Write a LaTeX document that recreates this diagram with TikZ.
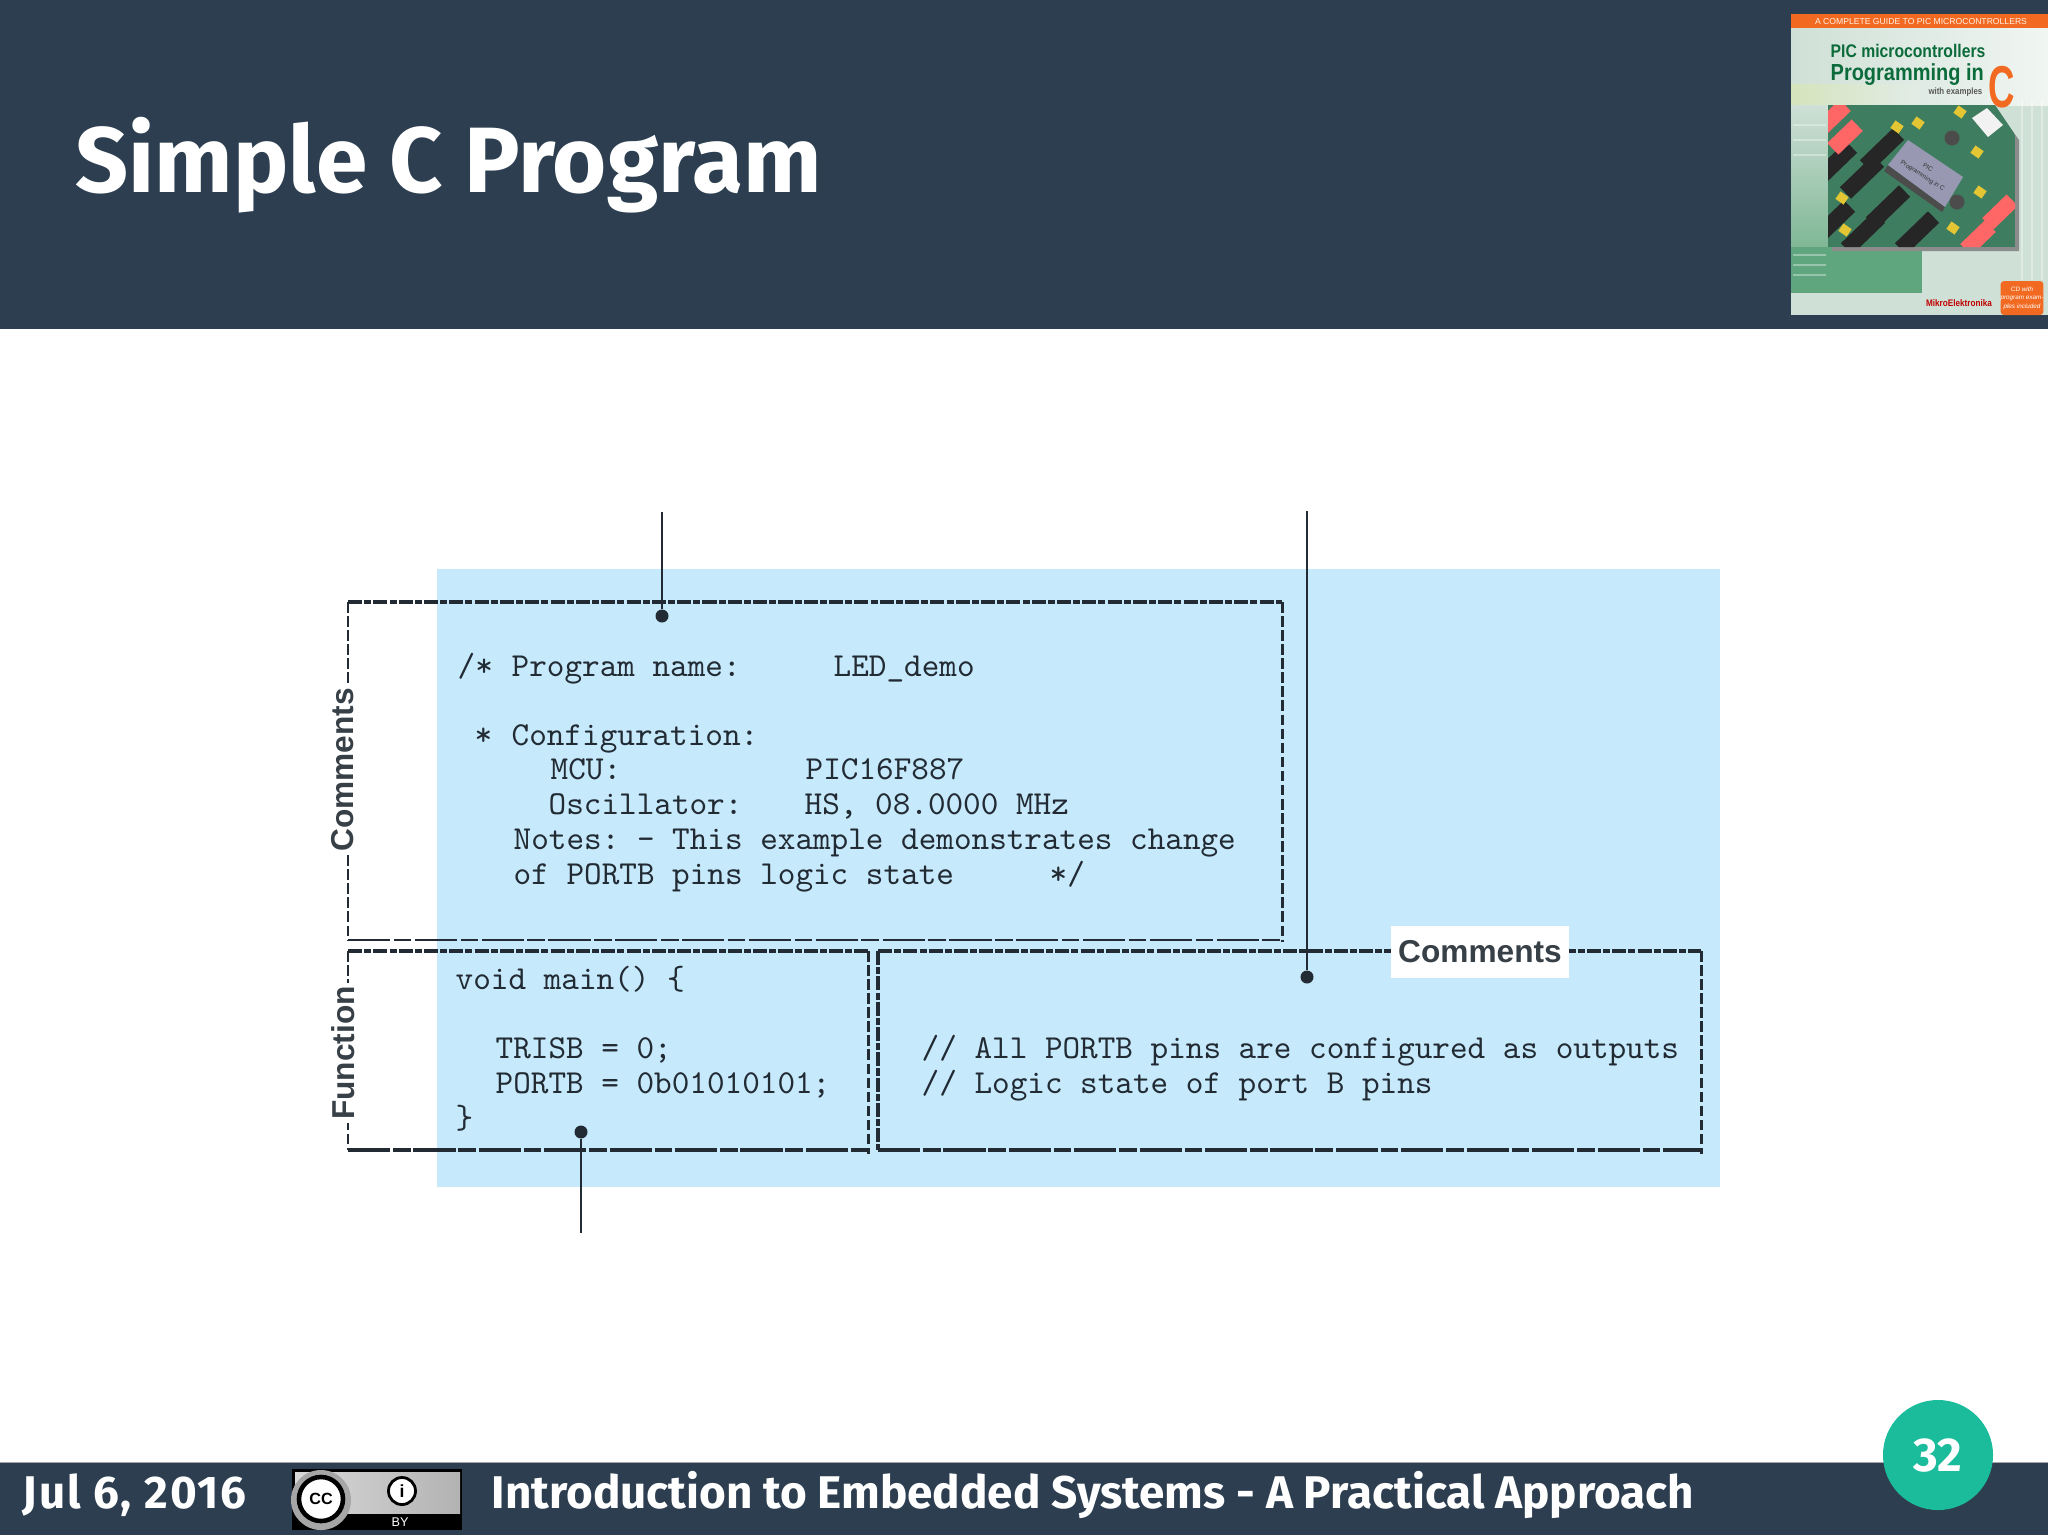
\documentclass[tikz,border=0pt]{standalone}
\usepackage{fontspec}
\setmainfont{Fira Sans}
\setsansfont{Liberation Sans}
\newfontfamily\coverfont[FakeStretch=0.86]{Liberation Sans}
\newfontfamily\coverbig[FakeStretch=0.62]{Liberation Sans}
\definecolor{slatebg}{HTML}{2C3E50}
\definecolor{tealbg}{HTML}{1ABC9C}
\definecolor{codebg}{HTML}{C6E9FC}
\definecolor{inkline}{HTML}{222B33}
\definecolor{bookorange}{HTML}{F26A21}
\definecolor{bookgreen}{HTML}{0B6B3A}
\definecolor{bookpale}{HTML}{CFE0D6}
\definecolor{bookmid}{HTML}{7FB795}
\definecolor{bookblock}{HTML}{5FA67E}
\definecolor{pcbgreen}{HTML}{3F7D60}
\tikzset{
  headtext/.style={anchor=base west,inner sep=0pt,text=white,font=\bfseries\fontsize{26.4}{30}\selectfont},
  foottext/.style={anchor=base west,inner sep=0pt,text=white,font=\bfseries\fontsize{13.03}{15}\selectfont},
  codeline/.style={anchor=base west,inner sep=0pt,yshift=-.012cm,text=inkline,font=\ttfamily\frenchspacing\fontsize{9.54}{11}\selectfont},
  sidelabel/.style={fill=white,inner sep=1pt,text=inkline!90!white,font=\sffamily\bfseries\fontsize{9}{11}\selectfont},
  shortdash/.style={draw=inkline,line width=.95pt,dash pattern=on 4pt off .6pt on 2pt off .6pt},
  longdash/.style={draw=inkline,line width=.95pt,dash pattern=on 12pt off .8pt on 5pt off .8pt},
  thindash/.style={draw=inkline,line width=.6pt,dash pattern=on 12pt off 1pt on 5pt off 1pt},
  sidedash/.style={draw=inkline,line width=.85pt,dash pattern=on 3pt off 1pt},
  dotend/.style={circle,fill=inkline,inner sep=0pt,minimum size=.13cm},
  leader/.style={draw=inkline,line width=.5pt},
  chipbox/.style={fill=black!85,inner sep=0pt,minimum width=.46cm,minimum height=.16cm,rotate=44},
  dipbox/.style={fill=red!60!white,inner sep=0pt,minimum width=.34cm,minimum height=.16cm,rotate=44},
  jumperbox/.style={fill=yellow!55!brown,inner sep=0pt,minimum width=.1cm,minimum height=.09cm,rotate=-35},
  knobdisc/.style={circle,fill=black!70,inner sep=0pt,minimum size=.15cm},
  tracing/.style={draw=white,opacity=.35,line width=.7pt},
}
\begin{document}
\begin{tikzpicture}[x=0.01cm,y=-0.01cm]
\useasboundingbox (0,0) rectangle (2048,1535);
%HEADER
\fill[slatebg] (0,0) rectangle (2048,329);
\node (title) at (75,192) [headtext] {Simple C Program};

%BOOK
\fill[bookpale] (1791,14) rectangle (2048,315);
\shade[left color=bookpale,right color=white!70!bookpale] (1791,28) rectangle (2048,105);
\shade[left color=yellow!12!bookpale,right color=white!40!bookpale] (1791,84) rectangle (1920,105);
\shade[top color=bookpale,bottom color=bookmid] (1791,105) rectangle (1922,247);
\fill[bookblock] (1791,247) rectangle (1922,293);
\foreach \py in {125,140,155,255,265,275}
  \draw[tracing] (1793,\py) -- (1826,\py);
\foreach \px in {2022,2032,2042}
  \draw[tracing] (\px,100) -- (\px,280);
\fill[bookorange] (1791,14) rectangle (2048,28);
\node (cover top) at (1921,22) [inner sep=0pt,text=white!90!orange,font=\sffamily\fontsize{2.45}{3}\selectfont] {A COMPLETE GUIDE TO PIC MICROCONTROLLERS};
\node (cover one) at (1830,57) [anchor=base west,inner sep=0pt,text=bookgreen,font=\coverfont\bfseries\fontsize{5.2}{6}\selectfont] {PIC microcontrollers};
\node (cover two) at (1830,80) [anchor=base west,inner sep=0pt,text=bookgreen,font=\coverfont\bfseries\fontsize{6.6}{8}\selectfont] {Programming in};
\node (cover three) at (1983,94) [anchor=base east,inner sep=0pt,text=black!65,font=\coverfont\bfseries\fontsize{2.6}{3}\selectfont] {with examples};
\node (cover c) at (1988,107) [anchor=base west,inner sep=0pt,text=bookorange,font=\coverbig\bfseries\fontsize{16.8}{18}\selectfont] {C};
%board
\fill[black!45] (1832,110) -- (1998,110) -- (2019,140) -- (2019,251) -- (1832,251) -- cycle;
\begin{scope}
\clip (1828,105) -- (1995,105) -- (2015,135) -- (2015,247) -- (1828,247) -- cycle;
\fill[pcbgreen] (1828,105) rectangle (2015,247);
\foreach \px/\py [count=\i] in {1862/177,1888/207,1917/233,1863/233,1835/163,1833/222,1882/150}
  \node (chip\i) at (\px,\py) [chipbox] {};
\foreach \px/\py [count=\i] in {1845/137,2000/212,1978/238,1833/117}
  \node (dip\i) at (\px,\py) [dipbox] {};
\foreach \px/\py [count=\i] in {1918/123,1960/112,1977/152,1897/127,1842/198,1845/230,1980/192,1953/228}
  \node (jumper\i) at (\px,\py) [jumperbox] {};
\foreach \px/\py [count=\i] in {1952/138,1957/202}
  \node (knob\i) at (\px,\py) [knobdisc] {};
\fill[white!90!gray] (1972,118) -- (1987,108) -- (2003,125) -- (1988,137) -- cycle;
\fill[black!70] (1888,165) -- (1945,207) -- (1942,212) -- (1884,171) -- cycle;
\fill[blue!15!gray!70] (1908,140) -- (1963,177) -- (1945,207) -- (1888,165) -- cycle;
\node (cover lcd) at (1925,172) [rotate=-33,inner sep=0pt,align=center,text=black!80,font=\sffamily\fontsize{1.8}{2.8}\selectfont] {PIC\\Programming in C};
\end{scope}
\node (cover cd) at (2022,298) [fill=bookorange,rounded corners=1pt,minimum width=.4cm,minimum height=.34cm,inner sep=0pt,align=center,text=white,font=\sffamily\itshape\fontsize{1.8}{2.4}\selectfont] {CD with\\program exam-\\ples included};
\node (cover mikro) at (1959,303) [inner sep=0pt,text=red!75!black,font=\coverfont\bfseries\fontsize{2.7}{3}\selectfont] {MikroElektronika};

%CODE PANEL
\fill[codebg] (437,569) rectangle (1720,1187);
\foreach \px/\py/\txt [count=\i] in {
  457/675/{/*},511/675/{Program name:},833/675/{LED\_demo},
  474/744/{*},511/744/{Configuration:},
  550/778/{MCU:},805/778/{PIC16F887},
  548/813/{Oscillator:},804/813/{HS, 08.0000 MHz},
  513/848/{Notes: - This example demonstrates change},
  513/883/{of PORTB pins logic state},1049/883/{*/},
  455/988/{void main() \{},495/1057/{TRISB = 0;},495/1092/{PORTB = 0b01010101;},455/1127/{\}},
  921/1057/{// All PORTB pins are configured as outputs},
  921/1092/{// Logic state of port B pins}}
  \node (code\i) at (\px,\py) [codeline] {\txt};

%FRAMES
\draw[shortdash] (348,602) -- (1282,602);
\draw[thindash] (348,940) -- (1282,940);
\draw[sidedash] (348,602) -- (348,940);
\draw[sidedash] (1282,602) -- (1282,942);
\draw[shortdash] (348,951) -- (868,951);
\draw[longdash] (348,1150) -- (868,1150);
\draw[sidedash] (348,951) -- (348,1150);
\draw[sidedash] (868,951) -- (868,1154);
\draw[shortdash] (878,951) -- (1701,951);
\draw[longdash] (878,1150) -- (1701,1150);
\draw[shortdash] (878,951) -- (878,1150);
\draw[sidedash] (1701,951) -- (1701,1154);

\node (label left) at (343,770) [sidelabel,rotate=90] {Comments};
\node (label func) at (343,1053) [sidelabel,rotate=90] {Function};
\node (label right) at (1480,952) [sidelabel,minimum width=1.78cm,minimum height=.52cm,inner sep=0pt] {Comments};

%LEADERS
\node (dot a) at (662,616) [dotend] {};
\node (dot b) at (1307,977) [dotend] {};
\node (dot c) at (581,1132) [dotend] {};
\coordinate (free a) at (662,512);
\coordinate (free b) at (1307,511);
\coordinate (free c) at (581,1233);
\draw[leader] (free a) -- (dot a);
\draw[leader] (free b) -- (dot b);
\draw[leader] (free c) -- (dot c);

%FOOTER
\fill[slatebg] (0,1462) rectangle (2048,1535);
\draw[gray!70,line width=.3pt] (0,1462) -- (2048,1462);
\node (date) at (22,1508) [foottext] {\addfontfeature{LetterSpace=4}Jul 6, 2016};
\node (course) at (491,1508) [foottext] {Introduction to Embedded Systems - A Practical Approach};
\node (page) at (1938,1455) [circle,fill=tealbg,minimum size=1.1cm,inner sep=0pt,text=white,font=\bfseries\fontsize{13.5}{15}\selectfont] {\raisebox{-.6pt}{32}};

%BADGE
\fill[black] (292,1469) rectangle (462,1530);
\shade[left color=white!70!gray,right color=gray!60!white] (295,1472) rectangle (460,1513);
\node (badge ring) at (321,1500) [circle,fill=gray!70!white,minimum size=.6cm,inner sep=0pt] {};
\node (badge cc) at (321,1499) [circle,draw=black,line width=1.3pt,fill=white,minimum size=.44cm,inner sep=0pt,font=\sffamily\bfseries\fontsize{4.6}{5}\selectfont] {CC};
\node (badge by) at (402,1491) [circle,draw=black,line width=.8pt,fill=white,minimum size=.27cm,inner sep=0pt,font=\sffamily\bfseries\fontsize{5}{5}\selectfont] {i};
\node (badge text) at (400,1522) [inner sep=0pt,text=white,font=\sffamily\fontsize{3.6}{4}\selectfont] {BY};
\end{tikzpicture}
\end{document}
